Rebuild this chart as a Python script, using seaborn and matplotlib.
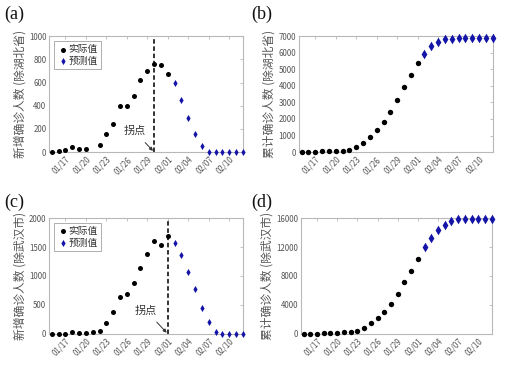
import matplotlib
matplotlib.use("Agg")
import matplotlib.pyplot as plt
import matplotlib.dates as mdates
import seaborn as sns
import numpy as np
import pandas as pd


# -----------------------------
# DATA
# -----------------------------
DATES = pd.date_range("2020-01-15", "2020-02-12", freq="D")
N_ACTUAL = 18  # 01/15 .. 02/01 observed, 02/02 .. 02/12 predicted

NEW_EX_HUBEI = [0, 6, 14, 43, 23, 26, np.nan, 63, 156, 245, 398, 398, 481, 620, 703, 761, 755, 671,
                594, 450, 297, 158, 55, 0, 0, 0, 0, 0, 0]
CUM_EX_HUBEI = [0, 0, 0, 40, 60, 80, 80, 120, 300, 550, 940, 1340, 1826, 2434, 3145, 3916, 4667, 5356,
                5930, 6390, 6660, 6820, 6860, 6878, 6880, 6880, 6880, 6880, 6880]
NEW_EX_WUHAN = [0, 0, 5, 35, 12, 23, 35, 58, 180, 372, 640, 686, 878, 1145, 1384, 1605, 1529, 1698,
                1570, 1366, 1070, 773, 453, 198, 35, 0, 0, 0, 0]
CUM_EX_WUHAN = [20, 30, 40, 90, 120, 160, 200, 290, 450, 830, 1480, 2170, 3050, 4110, 5550, 7170, 8690, 10400,
                11977, 13310, 14377, 15100, 15650, 15900, 15930, 15940, 15940, 15940, 15940]

TICK_DATES = pd.to_datetime(["2020-01-17", "2020-01-20", "2020-01-23", "2020-01-26", "2020-01-29",
                             "2020-02-01", "2020-02-04", "2020-02-07", "2020-02-10"])
TURN_A = pd.Timestamp("2020-01-30")
TURN_C = pd.Timestamp("2020-02-01")

YLABELS = ["新增确诊人数 (除湖北省)", "累计确诊人数 (除湖北省)",
           "新增确诊人数 (除武汉市)", "累计确诊人数 (除武汉市)"]
PANEL_TAGS = ["(a)", "(b)", "(c)", "(d)"]
YTICKS = [np.arange(0, 1001, 200), np.arange(0, 7001, 1000),
          np.arange(0, 2001, 500), np.arange(0, 16001, 4000)]

# -----------------------------
# STYLE
# -----------------------------
sns.set_style("white")
plt.rcParams["font.family"] = ["Noto Sans CJK SC", "DejaVu Sans"]

BLACK = "#000000"
BLUE = "#1414a8"
GRAY = "#555555"
SPINE = "#b8b8b8"


def draw_panel(ax, values, big, ylabel, yticks):
    df = pd.DataFrame({"date": DATES, "value": values})
    act = df.iloc[:N_ACTUAL]
    pre = df.iloc[N_ACTUAL:]
    sns.scatterplot(data=act, x="date", y="value", ax=ax, color=BLACK, marker="o",
                    s=15 if big else 13, edgecolor=BLACK, linewidth=0, label="实际值", clip_on=False, zorder=3)
    sns.scatterplot(data=pre, x="date", y="value", ax=ax, color=BLUE, marker="d",
                    s=24 if big else 13, edgecolor=BLUE, linewidth=0, label="预测值", clip_on=False, zorder=3)
    ax.set_xlim(DATES[0] - pd.Timedelta(hours=9), DATES[-1] + pd.Timedelta(hours=1))
    ax.set_ylim(yticks[0], yticks[-1])
    ax.set_yticks(yticks)
    ax.set_xticks(TICK_DATES)
    ax.xaxis.set_major_formatter(mdates.DateFormatter("%m/%d"))
    for lab in ax.get_xticklabels():
        lab.set_rotation(45)
        lab.set_ha("right")
        lab.set_rotation_mode("anchor")
    ax.tick_params(direction="in", length=2.5, width=0.6, color=SPINE,
                   labelsize=5.7, labelcolor=GRAY, pad=2, top=True, right=True)
    ax.set_xlabel("")
    ax.set_ylabel(ylabel, fontsize=8.5, color=GRAY, labelpad=2)
    for sp in ax.spines.values():
        sp.set_color(SPINE)
        sp.set_linewidth(0.8)


def main() -> None:
    fig = plt.figure(figsize=(5.12, 3.86), dpi=100)
    rects = [
        [0.096, 0.606, 0.379, 0.300],
        [0.584, 0.606, 0.379, 0.300],
        [0.096, 0.135, 0.379, 0.300],
        [0.588, 0.135, 0.373, 0.300],
    ]
    series = [NEW_EX_HUBEI, CUM_EX_HUBEI, NEW_EX_WUHAN, CUM_EX_WUHAN]
    axes = []
    for i, (r, vals) in enumerate(zip(rects, series)):
        ax = fig.add_axes(r)
        draw_panel(ax, vals, big=(i % 2 == 1), ylabel=YLABELS[i], yticks=YTICKS[i])
        axes.append(ax)

    # legends only on the "new cases" panels
    for i, ax in enumerate(axes):
        if i % 2 == 0:
            leg = ax.legend(loc="upper left", fontsize=7, frameon=True, fancybox=False,
                            handletextpad=0.0, borderpad=0.3, labelspacing=0.2,
                            handlelength=1.2, borderaxespad=0.5, markerscale=1.0)
            leg.get_frame().set_edgecolor("#999999")
            leg.get_frame().set_linewidth(0.7)
            for t in leg.get_texts():
                t.set_color("#333333")
        else:
            ax.get_legend().remove()

    # turning point lines and labels
    for ax, turn, txt_xy in [(axes[0], TURN_A, (0.44, 0.18)), (axes[2], TURN_C, (0.5, 0.2))]:
        ax.axvline(turn, color="#222222", ls="--", lw=1.3, dashes=(2.5, 1.5), zorder=2)
        ax.annotate("拐点", xy=(turn - pd.Timedelta(hours=4), ax.get_ylim()[1] * 0.01),
                    xytext=txt_xy, textcoords="axes fraction", ha="center", va="center",
                    fontsize=8, color="#333333",
                    arrowprops=dict(arrowstyle="-|>", color="#333333", lw=0.7,
                                    mutation_scale=5, shrinkA=3, shrinkB=0))

    tag_pos = [(0.008, 0.985), (0.49, 0.985), (0.008, 0.497), (0.49, 0.497)]
    for tag, (x, y) in zip(PANEL_TAGS, tag_pos):
        fig.text(x, y, tag, fontsize=13, family=["Liberation Serif", "DejaVu Serif"],
                 ha="left", va="top", color="#111111")

    fig.savefig("out.png", dpi=100)
    plt.close(fig)


if __name__ == "__main__":
    main()
